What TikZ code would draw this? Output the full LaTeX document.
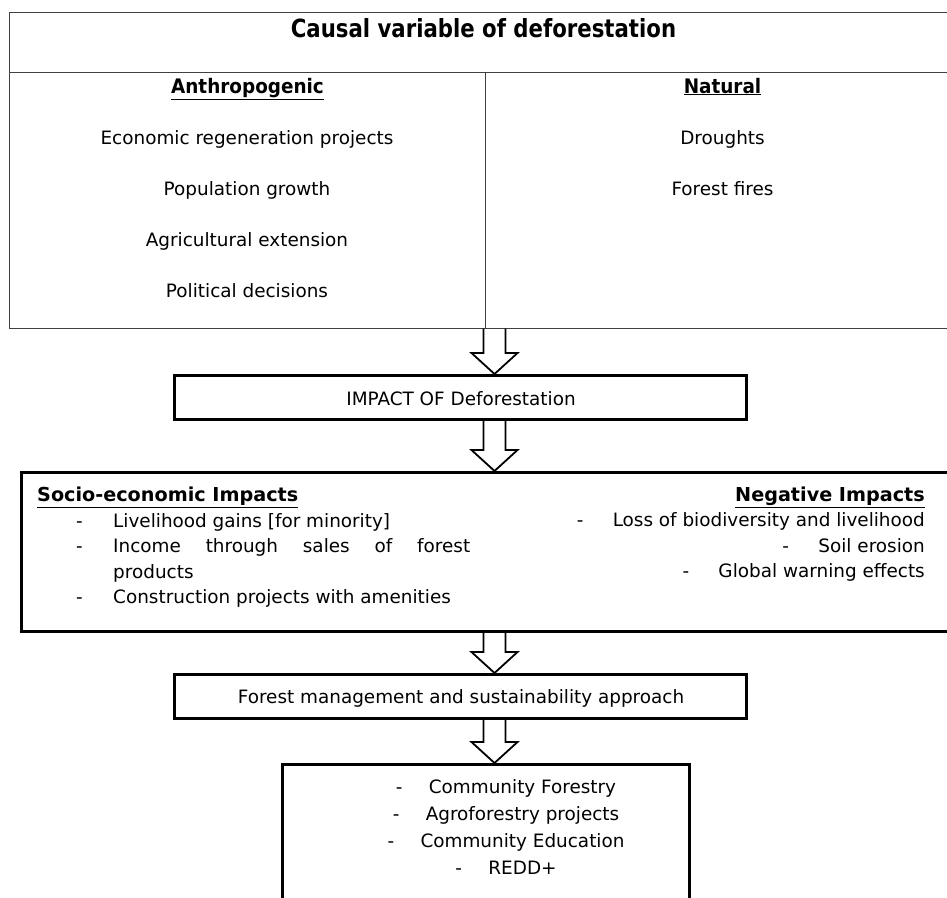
\documentclass[tikz,border=0pt]{standalone}
\usepackage{fontspec}
\setmainfont{DejaVu Sans}
\newfontfamily\headfont{DejaVu Sans}[FakeStretch=0.92]
\newfontfamily\titlefont{DejaVu Sans}[FakeStretch=0.85]
\usetikzlibrary{positioning}
\usetikzlibrary{calc}

\tikzset{
  tablebox/.style={draw=black!75, line width=1pt, inner sep=0pt},
  thickbox/.style={draw=black, line width=3pt, inner sep=0pt},
  txt/.style={inner sep=0pt, font=\fontsize{18.4}{22}\selectfont},
  head/.style={inner sep=0pt, font=\fontsize{20}{24}\selectfont\headfont\bfseries},
  subhead/.style={inner sep=0pt, font=\fontsize{19.2}{23}\selectfont\bfseries},
  hollow/.style={draw=black, line width=1.8pt, line join=miter}
}

% hollow block arrow from #1 (top of shaft) down to #2 (tip)
\newcommand{\hollowarrow}[2]{%
  \draw[hollow] let \p1=(#1), \p2=(#2) in
    (\x1-11pt,\y1) -- (\x1-11pt,\y2+21pt) -- (\x1-23pt,\y2+21pt) -- (\x2,\y2)
    -- (\x1+23pt,\y2+21pt) -- (\x1+11pt,\y2+21pt) -- (\x1+11pt,\y1);}

\begin{document}
\begin{tikzpicture}[x=1pt,y=-1pt]
    \useasboundingbox (0,0) rectangle (947,897);
    \clip (0,0) rectangle (947,897);

    % Define the boxes
    \node[tablebox, minimum width=941pt, minimum height=316pt] (causes) at (480,170) {};
    \node[thickbox, minimum width=572pt, minimum height=44pt] (impact) at (460.5,397.5) {};
    \node[thickbox, minimum width=931pt, minimum height=159pt] (effects) at (487,552) {};
    \node[thickbox, minimum width=572pt, minimum height=44pt] (manage) at (460.5,696.5) {};
    \node[thickbox, minimum width=407pt, minimum height=150pt] (actions) at (486,839.5) {};

    % Draw the table lines
    \coordinate (rowline) at (0,72);
    \coordinate (colline) at (485,0);
    \draw[draw=black!75, line width=1pt] (causes.west |- rowline) -- (causes.east |- rowline);
    \draw[draw=black!75, line width=1pt] (colline |- rowline) -- (colline |- causes.south);

    % Causes
    \node[head, anchor=base, font=\fontsize{25}{29}\selectfont\titlefont\bfseries] (title) at (483.5,37) {Causal variable of deforestation};
    \node[head, anchor=base] (anth) at (247.5,93) {\underline{Anthropogenic}};
    \node[head, anchor=base] (nat) at (722.5,93) {\underline{Natural}};

    \foreach \txt [count=\i] in {Economic regeneration projects, Population growth,
        Agricultural extension, Political decisions}
        \node[txt, anchor=base] (anth\i) at (247,{93+51*\i}) {\txt};

    \foreach \txt [count=\i] in {Droughts, Forest fires}
        \node[txt, anchor=base] (nat\i) at (722.5,{93+51*\i}) {\txt};

    % Impact
    \node[txt, anchor=base] (impacttxt) at (461,405) {IMPACT OF Deforestation};

    % Socio-economic and negative impacts
    \node[subhead, anchor=base west] (socio) at (37,501.5) {\underline{Socio-economic Impacts}};
    \node[txt, anchor=base west] (socio1) at (76,527) {\makebox[37pt][l]{-}Livelihood gains [for minority]};
    \node[txt, anchor=base west] (socio2) at (76,552.5) {\makebox[37pt][l]{-}\makebox[357pt][s]{Income through sales of forest}};
    \node[txt, anchor=base west] (socio3) at (113,578) {products};
    \node[txt, anchor=base west] (socio4) at (76,603) {\makebox[37pt][l]{-}Construction projects with amenities};

    \node[subhead, anchor=base east] (neg) at (925,501.5) {\underline{Negative Impacts}};
    \foreach \txt [count=\i] in {Loss of biodiversity and livelihood, Soil erosion, Global warning effects}
        \node[txt, anchor=base east] (neg\i) at (925,{501.5+25.3*\i}) {\makebox[36pt][l]{-}\txt};

    % Management
    \node[txt, anchor=base] (managetxt) at (461,703) {Forest management and sustainability approach};

    \foreach \txt [count=\i] in {Community Forestry, Agroforestry projects, Community Education, REDD+}
        \node[txt, anchor=base] (act\i) at (506,{765.7+27.3*\i}) {\makebox[33pt][l]{-}\txt};

    % Draw the arrows
    \coordinate (ax) at (494.5,0);
    \hollowarrow{ax |- causes.south}{ax |- impact.north}
    \hollowarrow{ax |- impact.south}{ax |- effects.north}
    \hollowarrow{ax |- effects.south}{ax |- manage.north}
    \hollowarrow{ax |- manage.south}{ax |- actions.north}
\end{tikzpicture}
\end{document}
